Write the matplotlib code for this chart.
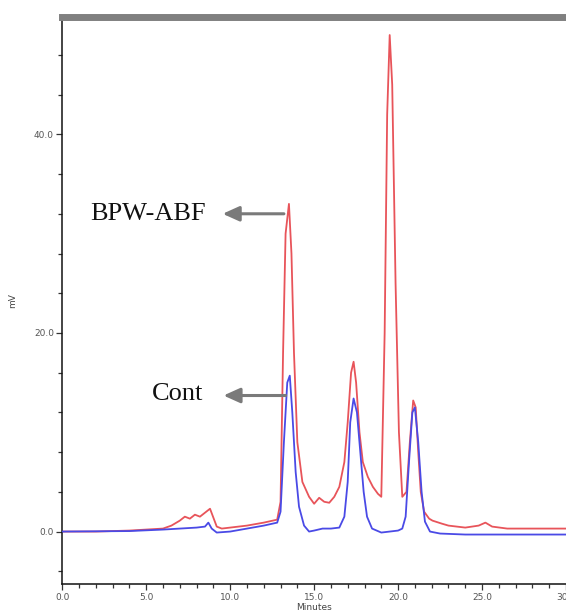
import matplotlib
matplotlib.use("Agg")
import matplotlib.pyplot as plt
from matplotlib.ticker import MultipleLocator

# BPW-ABF (red) chromatogram
red_t = [0, 2, 4, 6, 6.5, 7, 7.3, 7.6, 7.9, 8.2, 8.5, 8.8, 9.0, 9.2, 9.5, 10, 11, 12, 12.8,
         13.0, 13.15, 13.3, 13.5, 13.65, 13.8, 14.0, 14.3, 14.7, 15.0, 15.3, 15.6, 15.9, 16.2,
         16.5, 16.8, 17.0, 17.2, 17.35, 17.5, 17.7, 17.9, 18.2, 18.5, 18.8, 19.0, 19.2, 19.35,
         19.5, 19.65, 19.85, 20.05, 20.25, 20.5, 20.7, 20.9, 21.05, 21.2, 21.35, 21.55, 21.85, 22.05,
         22.6, 23, 24, 24.8, 25.2, 25.6, 26.5, 28, 30]
red_v = [0, 0, 0.1, 0.3, 0.6, 1.1, 1.5, 1.3, 1.7, 1.5, 1.9, 2.3, 1.4, 0.5, 0.3, 0.4, 0.6, 0.9, 1.2,
         3, 18, 30, 33, 28, 18, 9, 5, 3.5, 2.8, 3.4, 3.0, 2.9, 3.5,
         4.5, 7, 11, 16, 17.1, 15, 10, 7, 5.5, 4.5, 3.8, 3.5, 20, 42,
         50, 45, 25, 10, 3.5, 4, 9, 13.2, 12.5, 8, 4, 2.0, 1.3, 1.1,
         0.8, 0.6, 0.4, 0.6, 0.9, 0.5, 0.3, 0.3, 0.3]

# Cont (blue) chromatogram
blue_t = [0, 4, 6, 7, 8, 8.5, 8.7, 8.9, 9.2, 10, 11, 12, 12.8, 13.0, 13.2, 13.4, 13.55, 13.7,
          13.9, 14.1, 14.4, 14.7, 15.0, 15.5, 16.0, 16.5, 16.8, 17.0, 17.15, 17.35, 17.55,
          17.75, 17.95, 18.15, 18.45, 19.0, 19.5, 20.0, 20.25, 20.45, 20.65, 20.85, 21.0, 21.2,
          21.4, 21.6, 21.9, 22.5, 24, 30]
blue_v = [0, 0.05, 0.2, 0.3, 0.4, 0.5, 0.9, 0.3, -0.1, 0, 0.3, 0.6, 0.9, 2, 9, 15, 15.7, 12,
          6, 2.5, 0.6, 0.0, 0.1, 0.3, 0.3, 0.4, 1.5, 5, 11, 13.4, 12,
          8, 4, 1.5, 0.3, -0.1, 0, 0.1, 0.3, 1.5, 7, 12.0, 12.5, 9,
          4, 1, 0, -0.2, -0.3, -0.3]

x_ticks = [0, 5, 10, 15, 20, 25, 30]
x_ticklabels = ["0.0", "5.0", "10.0", "15.0", "20.0", "25.0", "30.0"]
y_ticks = [0, 20, 40]
y_ticklabels = ["0.0", "20.0", "40.0"]

fig = plt.figure(figsize=(5.66, 6.13), dpi=100)
ax = fig.add_axes([0.110, 0.047, 0.890, 0.925])

ax.plot(red_t, red_v, color="#e8545a", lw=1.3, zorder=2)
ax.plot(blue_t, blue_v, color="#4a4ae6", lw=1.3, zorder=3)

ax.set_xlim(0, 29.5)
ax.set_ylim(-5.3, 51.8)

ax.set_xticks(x_ticks)
ax.set_xticklabels(x_ticklabels)
ax.set_yticks(y_ticks)
ax.set_yticklabels(y_ticklabels)
ax.xaxis.set_minor_locator(MultipleLocator(1))
ax.yaxis.set_minor_locator(MultipleLocator(4))
ax.tick_params(axis="both", which="major", labelsize=6.5, labelcolor="#555555",
               length=4, width=0.9, color="#333333", pad=2)
ax.tick_params(axis="both", which="minor", length=3, width=0.9, color="#333333")

for s in ("left", "bottom"):
    ax.spines[s].set_color("#111111")
    ax.spines[s].set_linewidth(1.1)
ax.spines["right"].set_visible(False)
ax.spines["top"].set_color("#808080")
ax.spines["top"].set_linewidth(5)

ax.set_xlabel("Minutes", fontsize=6.5, color="#444444", labelpad=1)
ax.set_ylabel("mV", fontsize=6.5, color="#444444", labelpad=12)

arrow_style = dict(arrowstyle="-|>,head_length=1.0,head_width=0.45",
                   color="#7a7a7a", lw=2.2, shrinkA=0, shrinkB=0)
ax.annotate("", xy=(9.55, 32.0), xytext=(13.2, 32.0), arrowprops=arrow_style, zorder=4)
ax.text(8.55, 32.0, "BPW-ABF", family="Liberation Serif", fontsize=19,
        ha="right", va="center", color="#111111")

ax.annotate("", xy=(9.6, 13.7), xytext=(13.3, 13.7), arrowprops=arrow_style, zorder=4)
ax.text(8.37, 13.9, "Cont", family="Liberation Serif", fontsize=19,
        ha="right", va="center", color="#111111")

fig.savefig("out.png", dpi=100)
